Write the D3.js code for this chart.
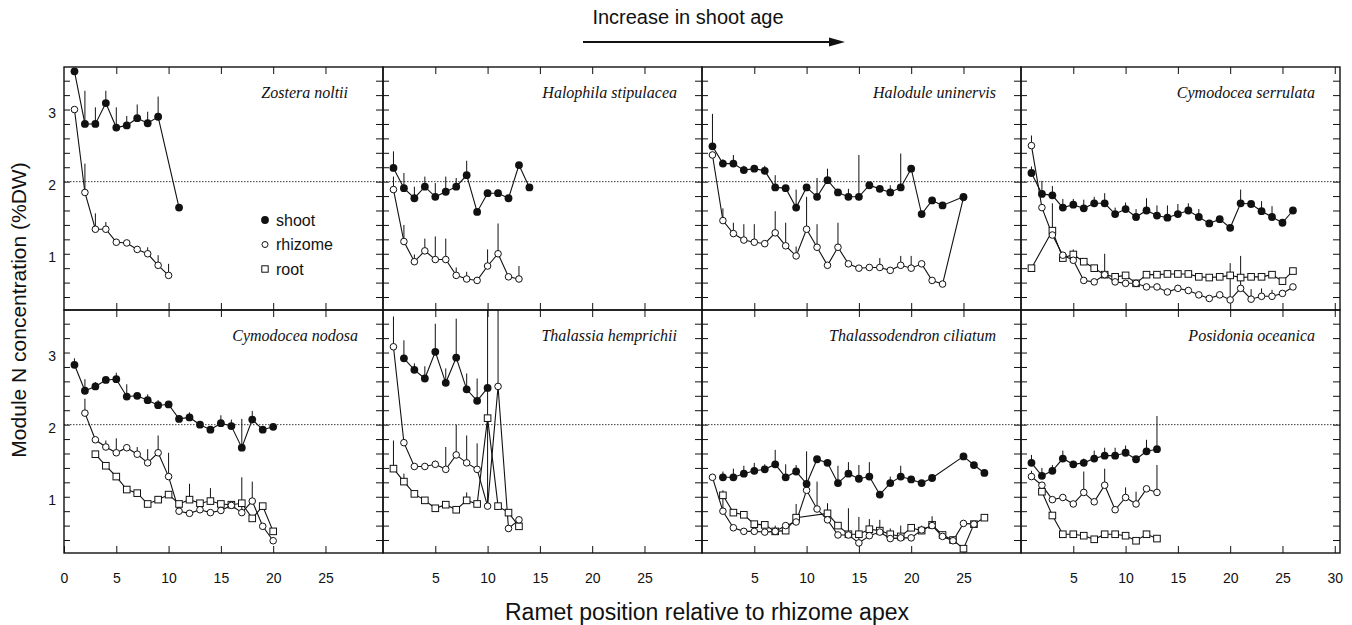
<!DOCTYPE html>
<html>
<head>
<meta charset="utf-8">
<script src="https://cdn.jsdelivr.net/npm/d3@7"></script>
<style>
  body { margin: 0; background: #fff; }
  text { font-family: "Liberation Sans", Arial, sans-serif; fill: #111; }
  .species { font-family: "Liberation Serif", "Times New Roman", serif; font-style: italic; }
</style>
</head>
<body>
<div id="chart-area"></div>
<script>

// DATA
// =====
// each point: [ramet position, mean %N, top of error bar (null = none)]

var speciesNames = ['Zostera noltii', 'Halophila stipulacea', 'Halodule uninervis', 'Cymodocea serrulata',
                    'Cymodocea nodosa', 'Thalassia hemprichii', 'Thalassodendron ciliatum', 'Posidonia oceanica'];
var moduleNames = ['shoot', 'rhizome', 'root'];

var zosteraShoot = [[1,3.53,null],[2,2.80,3.26],[3,2.80,3.03],[4,3.09,3.26],[5,2.75,3.03],[6,2.78,2.91],
    [7,2.88,3.07],[8,2.81,2.97],[9,2.90,3.18],[11,1.64,null]];
var zosteraRhizome = [[1,3.00,null],[2,1.85,2.25],[3,1.34,1.56],[4,1.34,1.44],[5,1.16,null],[6,1.15,null],
    [7,1.06,null],[8,1.00,1.09],[9,0.84,0.98],[10,0.70,0.86]];
var zosteraRoot = [];

var halophilaShoot = [[1,2.19,2.42],[2,1.91,2.12],[3,1.77,1.93],[4,1.93,2.07],[5,1.79,1.98],[6,1.86,2.07],
    [7,1.93,2.05],[8,2.09,2.29],[9,1.58,null],[10,1.84,null],[11,1.84,null],[12,1.77,null],[13,2.23,null],[14,1.92,null]];
var halophilaRhizome = [[1,1.89,2.07],[2,1.17,1.40],[3,0.89,0.99],[4,1.04,1.21],[5,0.92,1.24],[6,0.92,1.21],
    [7,0.70,0.81],[8,0.65,0.75],[9,0.63,0.68],[10,0.83,1.06],[11,1.00,1.42],[12,0.68,null],[13,0.65,0.83]];
var halophilaRoot = [];

var haloduleShoot = [[1,2.49,2.94],[2,2.25,2.31],[3,2.25,2.37],[4,2.16,2.22],[5,2.18,2.22],[6,2.15,2.22],
    [7,1.92,2.09],[8,1.91,null],[9,1.64,1.89],[10,1.92,null],[11,1.79,2.05],[12,2.02,2.18],[13,1.85,null],
    [14,1.79,1.90],[15,1.79,2.37],[16,1.95,null],[17,1.90,null],[18,1.85,1.95],[19,1.92,2.39],[20,2.18,null],
    [21,1.55,null],[22,1.74,null],[23,1.67,null],[25,1.79,null]];
var haloduleRhizome = [[1,2.37,null],[2,1.46,1.63],[3,1.28,1.43],[4,1.19,1.41],[5,1.16,1.41],[6,1.14,null],
    [7,1.29,1.59],[8,1.11,1.43],[9,0.97,1.10],[10,1.34,1.79],[11,1.09,1.41],[12,0.84,null],[13,1.09,1.43],
    [14,0.86,null],[15,0.80,null],[16,0.81,null],[17,0.81,0.94],[18,0.77,null],[19,0.84,0.97],[20,0.80,0.97],
    [21,0.86,null],[22,0.63,null],[23,0.58,null],[25,1.78,null]];
var haloduleRoot = [];

var serrulataShoot = [[1,2.12,2.21],[2,1.83,2.01],[3,1.81,1.94],[4,1.64,1.76],[5,1.68,1.76],[6,1.63,1.75],
    [7,1.70,1.79],[8,1.70,1.84],[9,1.55,1.64],[10,1.62,1.71],[11,1.51,1.62],[12,1.60,1.77],[13,1.53,1.67],
    [14,1.50,1.67],[15,1.55,1.69],[16,1.60,1.70],[17,1.51,1.62],[18,1.42,null],[19,1.48,null],[20,1.36,null],
    [21,1.70,1.89],[22,1.69,null],[23,1.59,1.73],[24,1.51,1.66],[25,1.43,null],[26,1.60,null]];
var serrulataRhizome = [[1,2.50,2.64],[2,1.64,null],[3,1.26,null],[4,0.98,null],[5,0.91,null],[6,0.63,null],
    [7,0.61,null],[8,0.71,1.00],[9,0.61,null],[10,0.59,null],[11,0.59,null],[12,0.54,null],[13,0.54,null],
    [14,0.47,null],[15,0.52,null],[16,0.49,null],[17,0.43,null],[18,0.38,null],[19,0.43,null],[20,0.36,0.87],
    [21,0.52,0.97],[22,0.37,0.51],[23,0.41,0.52],[24,0.41,0.50],[25,0.45,null],[26,0.54,null]];
var serrulataRoot = [[1,0.80,null],[3,1.32,1.70],[4,0.94,null],[5,0.99,1.06],[6,0.89,null],[7,0.80,null],
    [8,0.71,null],[9,0.68,null],[10,0.70,null],[11,0.59,null],[12,0.71,null],[13,0.71,null],[14,0.72,null],
    [15,0.72,null],[16,0.72,null],[17,0.68,null],[18,0.67,null],[19,0.68,null],[20,0.70,null],[21,0.67,null],
    [22,0.68,null],[23,0.68,null],[24,0.71,null],[25,0.62,null],[26,0.76,null]];

var nodosaShoot = [[1,2.83,2.92],[2,2.47,2.63],[3,2.53,2.59],[4,2.62,2.66],[5,2.63,2.72],[6,2.39,2.56],
    [7,2.40,2.43],[8,2.34,2.42],[9,2.27,2.34],[10,2.28,2.32],[11,2.08,2.13],[12,2.10,2.17],[13,2.00,2.05],
    [14,1.93,null],[15,2.02,2.13],[16,1.98,2.07],[17,1.68,2.08],[18,2.07,2.19],[19,1.93,null],[20,1.97,null]];
var nodosaRhizome = [[2,2.16,2.36],[3,1.79,null],[4,1.69,1.78],[5,1.61,1.81],[6,1.68,null],[7,1.59,1.69],
    [8,1.47,1.66],[9,1.61,1.85],[10,1.28,1.61],[11,0.80,null],[12,0.77,null],[13,0.82,null],[14,0.78,null],
    [15,0.81,null],[16,0.88,null],[17,0.78,1.27],[18,0.94,1.21],[19,0.59,null],[20,0.39,null]];
var nodosaRoot = [[3,1.59,null],[4,1.43,null],[5,1.28,null],[6,1.10,null],[7,1.05,null],[8,0.90,null],
    [9,0.96,null],[10,1.03,null],[11,0.90,null],[12,0.96,1.18],[13,0.91,null],[14,0.94,1.12],[15,0.90,null],
    [16,0.89,null],[17,0.91,null],[18,0.70,null],[19,0.87,null],[20,0.52,null]];

var thalassiaShoot = [[2,2.92,3.17],[3,2.76,2.85],[4,2.64,2.81],[5,3.01,3.40],[6,2.58,2.78],[7,2.93,3.47],
    [8,2.49,2.71],[9,2.33,2.64],[10,2.51,null]];
var thalassiaRhizome = [[1,3.08,3.50],[2,1.75,null],[3,1.42,null],[4,1.42,null],[5,1.45,1.50],[6,1.38,1.69],
    [7,1.58,2.00],[8,1.47,1.85],[9,1.38,1.74],[10,0.87,4.00],[11,2.53,4.00],[12,0.56,null],[13,0.68,null]];
var thalassiaRoot = [[1,1.39,1.78],[2,1.21,1.32],[3,1.04,null],[4,0.95,null],[5,0.84,null],[6,0.89,null],
    [7,0.82,null],[8,0.95,1.06],[9,0.90,null],[10,2.09,null],[11,0.87,null],[12,0.78,null],[13,0.59,null]];

var thalassodendronShoot = [[2,1.27,1.35],[3,1.27,1.39],[4,1.32,1.43],[5,1.36,1.47],[6,1.38,1.45],
    [7,1.45,1.65],[8,1.27,1.45],[9,1.35,1.44],[10,1.18,1.63],[11,1.52,null],[12,1.47,null],[13,1.19,1.43],
    [14,1.32,1.48],[15,1.25,1.44],[16,1.28,1.48],[17,1.03,null],[18,1.19,1.28],[19,1.28,1.43],[20,1.24,null],
    [21,1.19,null],[22,1.26,null],[25,1.56,null],[26,1.44,null],[27,1.33,null]];
var thalassodendronRhizome = [[1,1.27,null],[2,0.80,1.09],[3,0.57,null],[4,0.52,null],[5,0.52,null],
    [6,0.51,null],[7,0.52,0.60],[8,0.60,null],[9,0.65,0.90],[10,1.09,null],[11,0.83,1.21],[12,0.68,0.91],
    [13,0.47,null],[14,0.47,0.84],[15,0.36,0.72],[16,0.46,0.69],[17,0.51,0.68],[18,0.42,0.56],[19,0.43,0.60],
    [20,0.43,null],[21,0.54,0.60],[22,0.60,0.73],[23,0.45,null],[24,0.39,null],[25,0.63,null],[26,0.62,null]];
var thalassodendronRoot = [[2,1.02,null],[3,0.78,null],[4,0.75,null],[5,0.62,null],[6,0.61,null],
    [7,0.52,null],[8,0.53,null],[9,0.71,null],[12,0.77,null],[13,0.60,null],[14,0.48,null],[15,0.48,null],
    [16,0.55,null],[17,0.53,null],[18,0.48,null],[19,0.45,null],[20,0.57,null],[21,0.53,null],[22,0.61,null],
    [23,0.47,null],[24,0.40,null],[25,0.28,null],[26,0.62,null],[27,0.71,null]];

var posidoniaShoot = [[1,1.47,1.58],[2,1.29,1.40],[3,1.36,1.44],[4,1.53,1.64],[5,1.45,null],[6,1.47,1.53],
    [7,1.53,1.64],[8,1.57,1.68],[9,1.57,1.68],[10,1.61,1.71],[11,1.52,null],[12,1.63,1.79],[13,1.66,2.12]];
var posidoniaRhizome = [[1,1.28,1.36],[2,1.16,null],[3,0.96,null],[4,0.99,null],[5,0.90,null],[6,1.06,1.35],
    [7,0.93,null],[8,1.16,1.39],[9,0.82,null],[10,0.99,1.13],[11,0.90,1.07],[12,1.11,null],[13,1.06,1.44]];
var posidoniaRoot = [[2,1.07,null],[3,0.74,null],[4,0.48,null],[5,0.48,null],[6,0.46,null],[7,0.41,null],
    [8,0.48,null],[9,0.48,null],[10,0.46,null],[11,0.39,null],[12,0.48,null],[13,0.42,null]];

// tick values
var xTickLabels = [[0, 5, 10, 15, 20, 25], [5, 10, 15, 20, 25], [5, 10, 15, 20, 25], [5, 10, 15, 20, 25, 30]];
var yTickLabels = [1, 2, 3];
var yTickMarks = [0.4, 0.6, 0.8, 1.0, 1.2, 1.4, 1.6, 1.8, 2.0, 2.2, 2.4, 2.6, 2.8, 3.0, 3.2, 3.4];
var refLevel = 2;

var panels = [
    [zosteraShoot, zosteraRhizome, zosteraRoot],
    [halophilaShoot, halophilaRhizome, halophilaRoot],
    [haloduleShoot, haloduleRhizome, haloduleRoot],
    [serrulataShoot, serrulataRhizome, serrulataRoot],
    [nodosaShoot, nodosaRhizome, nodosaRoot],
    [thalassiaShoot, thalassiaRhizome, thalassiaRoot],
    [thalassodendronShoot, thalassodendronRhizome, thalassodendronRoot],
    [posidoniaShoot, posidoniaRhizome, posidoniaRoot]
].map(function(series, i) {
    return { name: speciesNames[i], series: series };
});


// CANVAS
// =======

var W = 1352, H = 625;
var padLeft = 64, padTop = 67, pw = 319, ph = 243;

var svg = d3.select('#chart-area')
    .append('svg')
        .attr('width', W)
        .attr('height', H);

svg.append('rect').attr('width', W).attr('height', H).attr('fill', '#fff');

var x = d3.scaleLinear().domain([0, 30.5]).range([0, pw]);
var y = d3.scaleLinear().domain([0.22, 3.59]).range([ph, 0]);

var line = d3.line()
    .x(function(d) { return x(d[0]); })
    .y(function(d) { return y(d[1]); });


// PANELS
// =======

panels.forEach(function(p, i) {
    var col = i % 4, row = Math.floor(i / 4);
    var g = svg.append('g')
        .attr('transform', 'translate(' + (padLeft + col * pw) + ',' + (padTop + row * ph) + ')');

    g.append('clipPath').attr('id', 'clip' + i)
        .append('rect').attr('width', pw).attr('height', ph);

    // dotted 2% line
    g.append('line')
        .attr('x1', 0).attr('x2', pw)
        .attr('y1', y(refLevel)).attr('y2', y(refLevel))
        .attr('stroke', '#222')
        .attr('stroke-width', 0.9)
        .attr('stroke-dasharray', '1.5,1.5');

    // inward ticks on all sides
    var xt = xTickLabels[col].filter(function(v) { return v > 0; });
    g.append('g').attr('class', 'x top')
        .call(d3.axisTop(x).tickValues(xt).tickSizeInner(-7).tickSizeOuter(0).tickFormat(''));
    var bottomAxis = g.append('g').attr('class', 'x bottom')
        .attr('transform', 'translate(0,' + ph + ')')
        .call(d3.axisBottom(x).tickValues(row === 1 ? xTickLabels[col] : xt)
            .tickSizeInner(-7).tickSizeOuter(0).tickPadding(20)
            .tickFormat(row === 1 ? d3.format('d') : ''));
    g.append('g').attr('class', 'y left')
        .call(d3.axisLeft(y).tickValues(yTickMarks)
            .tickSizeInner(-6).tickSizeOuter(0).tickFormat(''));
    g.append('g').attr('class', 'y right')
        .attr('transform', 'translate(' + pw + ',0)')
        .call(d3.axisRight(y).tickValues(yTickMarks).tickSizeInner(-7).tickSizeOuter(0).tickFormat(''));

    if (col === 0) {
        g.append('g').attr('class', 'y labels')
            .call(d3.axisLeft(y).tickValues(yTickLabels).tickSize(0).tickPadding(8).tickFormat(d3.format('d')))
            .call(function(a) { a.select('.domain').remove(); })
            .selectAll('text')
                .attr('dy', '0.55em')
                .attr('font-size', '14px')
                .attr('font-family', '"Liberation Sans", Arial, sans-serif')
                .attr('fill', '#111');
    }

    g.selectAll('path.domain').remove();
    g.selectAll('.tick line').attr('stroke', '#111').attr('stroke-width', 1);
    bottomAxis.selectAll('text')
        .attr('font-size', '14px')
        .attr('font-family', '"Liberation Sans", Arial, sans-serif')
        .attr('fill', '#111');

    // frame
    g.append('rect')
        .attr('width', pw).attr('height', ph)
        .attr('fill', 'none')
        .attr('stroke', '#111')
        .attr('stroke-width', 1.4);

    var plot = g.append('g').attr('clip-path', 'url(#clip' + i + ')');

    p.series.forEach(function(s) {
        plot.append('path')
            .datum(s)
            .attr('d', line)
            .attr('fill', 'none')
            .attr('stroke', '#111')
            .attr('stroke-width', 1.1);
    });

    p.series.forEach(function(s) {
        plot.selectAll(null)
            .data(s.filter(function(d) { return d[2] !== null; }))
            .enter().append('line')
                .attr('x1', function(d) { return x(d[0]); })
                .attr('x2', function(d) { return x(d[0]); })
                .attr('y1', function(d) { return y(d[1]); })
                .attr('y2', function(d) { return y(d[2]); })
                .attr('stroke', '#111')
                .attr('stroke-width', 1);
    });

    // markers
    plot.selectAll(null).data(p.series[2]).enter().append('rect')
        .attr('x', function(d) { return x(d[0]) - 3.3; })
        .attr('y', function(d) { return y(d[1]) - 3.3; })
        .attr('width', 6.6).attr('height', 6.6)
        .attr('fill', '#fff').attr('stroke', '#111').attr('stroke-width', 1);
    plot.selectAll(null).data(p.series[1]).enter().append('circle')
        .attr('cx', function(d) { return x(d[0]); })
        .attr('cy', function(d) { return y(d[1]); })
        .attr('r', 3.3)
        .attr('fill', '#fff').attr('stroke', '#111').attr('stroke-width', 1);
    plot.selectAll(null).data(p.series[0]).enter().append('circle')
        .attr('cx', function(d) { return x(d[0]); })
        .attr('cy', function(d) { return y(d[1]); })
        .attr('r', 3.9)
        .attr('fill', '#111');

    g.append('text')
        .attr('class', 'species')
        .attr('x', pw - (i === 0 ? 35 : 25))
        .attr('y', 31)
        .attr('text-anchor', 'end')
        .attr('font-size', '16px')
        .text(p.name);
});


// LEGEND
// =======

var legend = svg.append('g').attr('transform', 'translate(265,220)');
moduleNames.forEach(function(m, i) {
    var lg = legend.append('g').attr('transform', 'translate(0,' + (i * 24.5) + ')');
    if (i === 0) lg.append('circle').attr('r', 3.9).attr('fill', '#111');
    if (i === 1) lg.append('circle').attr('r', 3).attr('fill', '#fff').attr('stroke', '#111');
    if (i === 2) lg.append('rect').attr('x', -3.2).attr('y', -3.2).attr('width', 6.4).attr('height', 6.4)
        .attr('fill', '#fff').attr('stroke', '#111');
    lg.append('text')
        .attr('x', 11)
        .attr('dy', '0.35em')
        .attr('font-size', '16px')
        .text(m);
});


// LABELS
// =======

svg.append('text')
    .attr('x', 688)
    .attr('y', 24)
    .attr('text-anchor', 'middle')
    .attr('font-size', '20px')
    .text('Increase in shoot age');

svg.append('line')
    .attr('x1', 583).attr('x2', 832)
    .attr('y1', 42).attr('y2', 42)
    .attr('stroke', '#111')
    .attr('stroke-width', 1.8);
svg.append('path')
    .attr('d', 'M829,37.5 L845,42 L829,46.5 Z')
    .attr('fill', '#111');

svg.append('text')
    .attr('x', 707)
    .attr('y', 620)
    .attr('text-anchor', 'middle')
    .attr('font-size', '23px')
    .text('Ramet position relative to rhizome apex');

svg.append('text')
    .attr('transform', 'translate(26,' + (padTop + ph) + ') rotate(-90)')
    .attr('text-anchor', 'middle')
    .attr('font-size', '21px')
    .text('Module N concentration (%DW)');

</script>
</body>
</html>
